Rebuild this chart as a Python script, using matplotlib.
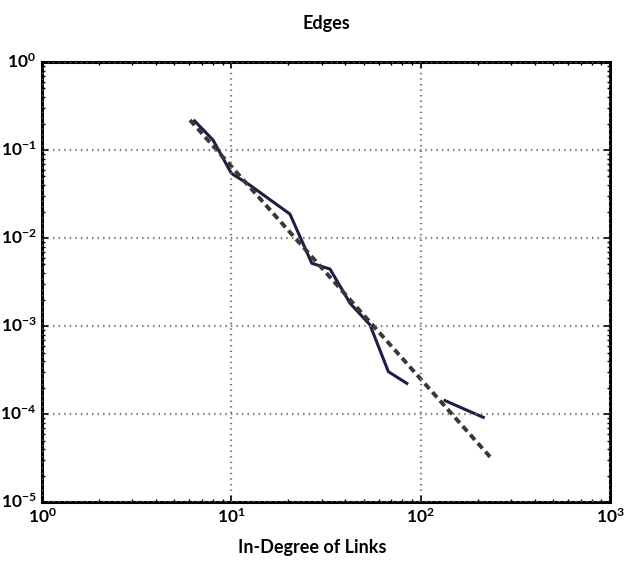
import numpy as np
import matplotlib.pyplot as plt

plt.style.use('classic')
plt.rcParams['font.family'] = ['Lato', 'DejaVu Sans']

# In-degree distribution, NaN marks the gap
degree = [6.4, 8.0, 10.0, 12.5, 20.4, 26.6, 33.2, 42.4, 54.0, 67.5, 84.5, np.nan, 134.5, 214.0]
prob = [0.214, 0.130, 0.0543, 0.040, 0.0187, 0.00516, 0.00444, 0.00181, 0.00103,
        0.000303, 0.000223, np.nan, 0.000142, 0.0000917]

# Power-law fit line endpoints
fit_x = [6.05, 233.0]
fit_y = [0.219, 3.24e-5]

fig = plt.figure(figsize=(6.24, 5.63), dpi=100, facecolor='white')
ax = fig.add_axes([0.0673, 0.1083, 0.9103, 0.7816])
ax.set_facecolor('white')

ax.plot(degree, prob, color='#1e1e45', linewidth=2.2)
fit, = ax.plot(fit_x, fit_y, color='#383838', linewidth=2.8)
fit.set_dashes([5, 3.2])

ax.set_xscale('log')
ax.set_yscale('log')
ax.set_xlim(1, 1000)
ax.set_ylim(1e-5, 1)
ax.grid(True, which='major', linestyle=':', color='#777777', linewidth=1.6)

for s in ax.spines.values():
    s.set_linewidth(2.2)
ax.tick_params(which='major', direction='in', length=4, width=1.2, labelsize=12.5, pad=4)
ax.tick_params(which='minor', direction='in', length=2, width=1)
for lbl in ax.get_xticklabels() + ax.get_yticklabels():
    lbl.set_fontweight('bold')

ax.set_title('Edges', fontsize=13, fontweight='bold', pad=24)
fig.text(0.5, 1 - 548 / 563, 'In-Degree of Links', fontsize=13,
         fontweight='bold', ha='center', va='center')

fig.savefig('out.png', dpi=100, facecolor='white')
